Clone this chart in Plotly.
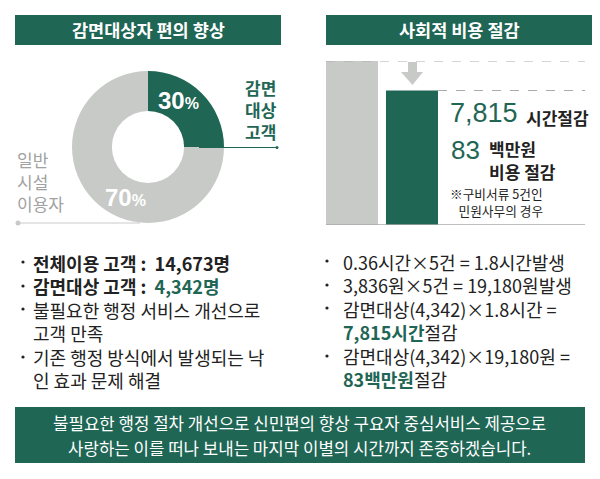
import plotly.graph_objects as go

W = 600
H = 479
GREEN = '#1f6655'
GRAY = '#c8cac8'
KR = 'Noto Sans CJK KR'

# 도넛: 원본 그림의 조각 크기는 라벨(30/70)이 아니라 1/4 원으로 그려져 있음
donut_names = ['감면대상 고객', '일반 시설 이용자']
donut_drawn = [25, 75]
donut_labels = ['30%', '70%']

bar_names = ['기존', '감면']
bar_values = [100, 82]

bullets_left = [
    '<b>전체이용 고객 :&nbsp; 14,673명</b>',
    '<b>감면대상 고객 :&nbsp; <span style="color:#1f6655">4,342명</span></b>',
    '불필요한 행정 서비스 개선으로',
    '고객 만족',
    '기존 행정 방식에서 발생되는 낙',
    '인 효과 문제 해결',
]
bullets_right = [
    '0.36시간×5건 = 1.8시간발생',
    '3,836원×5건 = 19,180원발생',
    '감면대상(4,342)×1.8시간 =',
    '<span style="color:#1f6655"><b>7,815시간</b></span>절감',
    '감면대상(4,342)×19,180원 =',
    '<span style="color:#1f6655"><b>83백만원</b></span>절감',
]
footer = ['불필요한 행정 절차 개선으로 신민편의 향상 구요자 중심서비스 제공으로',
          '사랑하는 이를 떠나 보내는 마지막 이별의 시간까지 존중하겠습니다.']


def px(x):
    return x / W


def py(y):
    return 1 - y / H


fig = go.Figure()

fig.add_trace(go.Pie(labels=donut_names, values=donut_drawn, hole=0.475, sort=False,
                     direction='clockwise', rotation=0, textinfo='none', showlegend=False,
                     marker=dict(colors=[GREEN, GRAY], line=dict(width=0)),
                     domain=dict(x=[px(72), px(224)], y=[py(223), py(71)])))

fig.add_trace(go.Bar(x=[0, 1], y=bar_values, text=None, width=0.867, showlegend=False,
                     marker=dict(color=[GRAY, GREEN], line=dict(width=0)),
                     xaxis='x', yaxis='y'))

fig.update_layout(
    width=W, height=H, margin=dict(l=0, r=0, t=0, b=0, pad=0),
    paper_bgcolor='white', plot_bgcolor='white',
    font=dict(family=KR, color='#222222'),
    xaxis=dict(domain=[px(326), px(585)], range=[-0.433, 3.883], visible=False, fixedrange=True),
    yaxis=dict(domain=[py(225), py(61)], range=[0, 100], visible=False, fixedrange=True),
)


def rect(x0, y0, x1, y1, color):
    fig.add_shape(type='rect', xref='paper', yref='paper', x0=px(x0), x1=px(x1), y0=py(y0), y1=py(y1),
                  fillcolor=color, line=dict(width=0))


def line(x0, y0, x1, y1, color, width=1):
    fig.add_shape(type='line', xref='paper', yref='paper', x0=px(x0), x1=px(x1), y0=py(y0), y1=py(y1),
                  line=dict(color=color, width=width))


def dot(x, y, r, color):
    fig.add_shape(type='circle', xref='paper', yref='paper', x0=px(x - r), x1=px(x + r), y0=py(y + r), y1=py(y - r),
                  fillcolor=color, line=dict(width=0))


def label(x, y, text, size, color='#222222', anchor='left', family=KR):
    fig.add_annotation(xref='paper', yref='paper', x=px(x), y=py(y), text=text, showarrow=False,
                       xanchor=anchor, yanchor='middle', align=anchor, borderpad=0,
                       font=dict(size=size, color=color, family=family))


# 제목 띠
rect(15, 15, 281, 45, GREEN)
rect(326, 15, 592, 45, GREEN)
label(148, 30, '<b>감면대상자 편의 향상</b>', 17.5, 'white', 'center')
label(459, 30, '<b>사회적 비용 절감</b>', 17.5, 'white', 'center')

# 도넛 라벨과 지시선
line(199, 147.5, 277, 147.5, GREEN)
dot(277, 147.5, 1.5, GREEN)
line(18, 223, 140, 223, GRAY)
dot(18, 223, 2.5, GRAY)
label(178, 101, f'<b>{donut_labels[0][:-1]}<span style="font-size:16px">%</span></b>', 24, 'white', 'center', 'Liberation Sans')
label(125, 197, f'<b>{donut_labels[1][:-1]}<span style="font-size:16px">%</span></b>', 24, 'white', 'center', 'Liberation Sans')
label(261, 110, '<b>감면<br>대상<br>고객</b>', 17, GREEN, 'center')
label(16, 181, '일반<br>시설<br>이용자', 17, '#a0a2a0')

# 막대 영역
fig.add_shape(type='line', xref='x', yref='y', x0=-0.433, x1=3.883, y0=bar_values[0], y1=bar_values[0],
              line=dict(color='#aaaaaa', width=1, dash='dash'))
fig.add_shape(type='line', xref='x', yref='y', x0=1.433, x1=3.883, y0=bar_values[1], y1=bar_values[1],
              line=dict(color='#aaaaaa', width=1, dash='dash'))
fig.add_shape(type='line', xref='x', yref='y', x0=-0.433, x1=3.883, y0=0, y1=0,
              line=dict(color='#a8aaa8', width=1.5))
arrow = [(408, 62), (417, 62), (417, 72), (423, 72), (412.5, 85), (401, 72), (408, 72)]
path = 'M ' + ' L '.join(f'{px(a):.4f} {py(b):.4f}' for a, b in arrow) + ' Z'
fig.add_shape(type='path', xref='paper', yref='paper', path=path, fillcolor=GRAY, line=dict(width=0))

label(449, 113, '7,815', 27, GREEN, family='Liberation Sans')
label(525, 117, '<b>시간절감</b>', 17)
label(450, 150, '83', 26, GREEN, family='Liberation Sans')
label(488, 148, '<b>백만원</b>', 17)
label(488, 171, '<b>비용 절감</b>', 17)
label(449, 202, '※구비서류 5건인<br>&nbsp;&nbsp;&nbsp;민원사무의 경우', 12.7)

# 불릿 목록
label(32, 321, '<br>'.join(bullets_left), 18)
for y in [262, 286, 309, 357]:
    dot(23, y, 1.6, '#222222')
label(342, 320, '<br>'.join(bullets_right), 18)
for y in [261, 285, 308, 356]:
    dot(327, y, 1.6, '#222222')

# 하단 띠
rect(15, 407, 585, 463, GREEN)
label(299, 423, footer[0], 16.8, 'white', 'center')
label(299, 448, footer[1], 16.8, 'white', 'center')

fig.write_html('out.html', config=dict(displayModeBar=False), post_script="document.body.style.margin='0';")
